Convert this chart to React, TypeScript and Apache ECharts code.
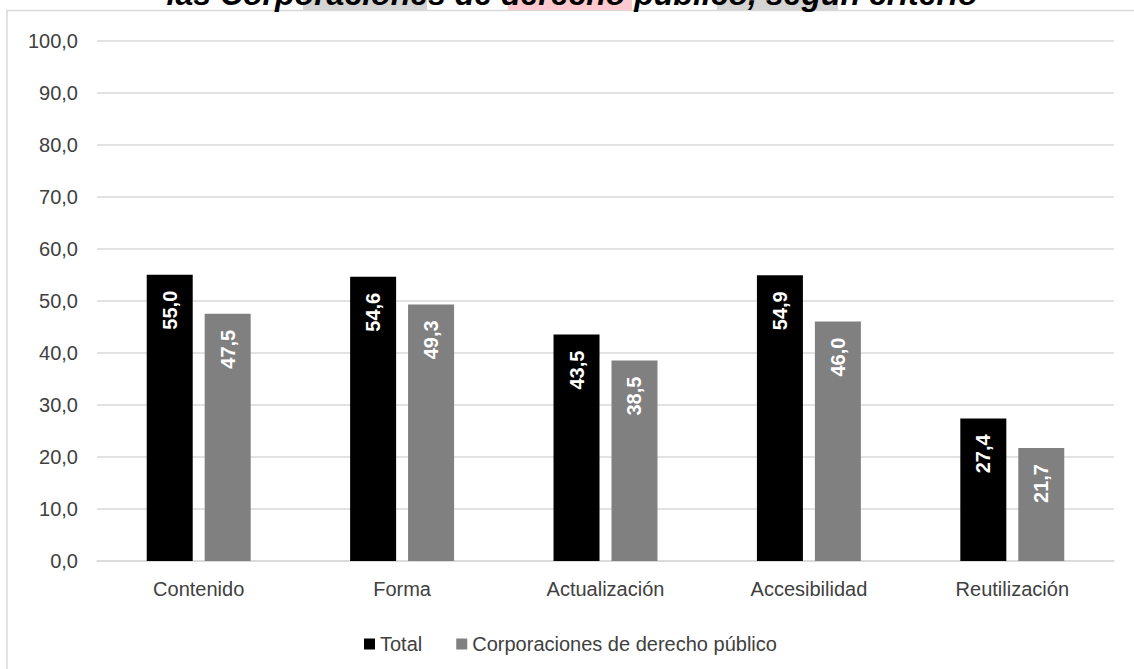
import React, { useEffect, useRef } from "react";
import * as echarts from "echarts";

const categories = ["Contenido", "Forma", "Actualización", "Accesibilidad", "Reutilización"];
const totalValues = [55.0, 54.6, 43.5, 54.9, 27.4];
const corpValues = [47.5, 49.3, 38.5, 46.0, 21.7];
const seriesNames = ["Total", "Corporaciones de derecho público"];
const titleText = "las Corporaciones de derecho público, según criterio";

const fmt = (v: number) => v.toFixed(1).replace(".", ",");
const FONT = "'Liberation Sans', Arial, sans-serif";

export default function App() {
  const ref = useRef<HTMLDivElement>(null);
  useEffect(() => {
    if (!ref.current) return;
    const chart = echarts.init(ref.current, null, { renderer: "svg" });
    const label = {
      show: true,
      position: "insideTop" as const,
      rotate: 90,
      align: "right",
      verticalAlign: "middle",
      distance: 16,
      color: "#ffffff",
      fontSize: 20,
      fontWeight: "bold" as const,
      fontFamily: FONT,
      formatter: (p: any) => fmt(p.value),
    };
    chart.setOption({
      animation: false,
      backgroundColor: "#ffffff",
      textStyle: { fontFamily: FONT },
      grid: { left: 97, right: 20, top: 40.5, bottom: 108, containLabel: false },
      legend: {
        left: 359,
        top: 629,
        itemWidth: 11,
        itemHeight: 11,
        itemGap: 34,
        icon: "rect",
        textStyle: { fontSize: 20, color: "#404040", fontFamily: FONT },
        data: seriesNames,
      },
      xAxis: {
        type: "category",
        data: categories,
        axisLine: { lineStyle: { color: "#d9d9d9", width: 1.5 } },
        axisTick: { show: false },
        axisLabel: { fontSize: 20, color: "#404040", margin: 18, fontFamily: FONT },
      },
      yAxis: {
        type: "value",
        min: 0,
        max: 100,
        interval: 10,
        axisLine: { show: false },
        axisTick: { show: false },
        splitLine: { lineStyle: { color: "#d9d9d9", width: 1.5 } },
        axisLabel: { fontSize: 20, color: "#404040", margin: 19, fontFamily: FONT, formatter: (v: number) => fmt(v) },
      },
      series: [
        {
          name: seriesNames[0],
          type: "bar",
          data: totalValues,
          barWidth: 46,
          barGap: "26%",
          itemStyle: { color: "#000000" },
          label,
        },
        {
          name: seriesNames[1],
          type: "bar",
          data: corpValues,
          barWidth: 46,
          itemStyle: { color: "#808080" },
          label,
        },
      ],
      graphic: [
        {
          type: "rect",
          z: -10,
          silent: true,
          shape: { x: 7, y: 10.5, width: 1200, height: 700 },
          style: { fill: "none", stroke: "#d9d9d9", lineWidth: 1.5 },
        },
        { type: "rect", z: -5, silent: true, shape: { x: 303, y: 0, width: 124, height: 10 }, style: { fill: "#d4d4d4" } },
        { type: "rect", z: -5, silent: true, shape: { x: 508, y: 0, width: 124, height: 10 }, style: { fill: "#ffc7ce" } },
        { type: "rect", z: -5, silent: true, shape: { x: 717, y: 0, width: 121, height: 10 }, style: { fill: "#d4d4d4" } },
        {
          type: "text",
          z: 10,
          silent: true,
          style: {
            text: titleText,
            x: 572,
            y: -6,
            align: "center",
            verticalAlign: "middle",
            fill: "#000000",
            font: `italic bold 32px ${FONT}`,
          },
        },
      ],
    });
    return () => chart.dispose();
  }, []);
  return (
    <div
      ref={ref}
      style={{ position: "fixed", left: 0, top: 0, width: 1134, height: 669 }}
    />
  );
}
